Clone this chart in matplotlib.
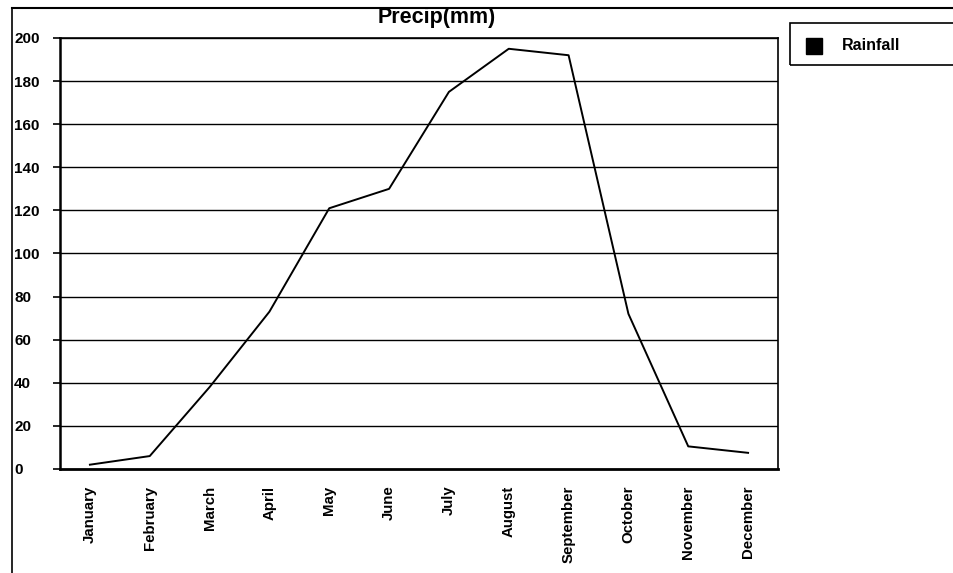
import matplotlib
matplotlib.use("Agg")
import matplotlib.pyplot as plt
from matplotlib.lines import Line2D
from matplotlib.patches import Rectangle

months = ["January", "February", "March", "April", "May", "June", "July",
          "August", "September", "October", "November", "December"]
rainfall = [2, 6, 38, 73, 121, 130, 175, 195, 192, 72, 10.5, 7.5]
y_ticks = [0, 20, 40, 60, 80, 100, 120, 140, 160, 180, 200]
title = "Precip(mm)"
legend_label = "Rainfall"

W, H = 954, 573
fig = plt.figure(figsize=(W / 100, H / 100), dpi=100)
plt.rcParams['font.family'] = ['Liberation Sans', 'DejaVu Sans']

ax = fig.add_axes([60 / W, 1 - 469 / H, (778 - 60) / W, (469 - 38) / H])
x = list(range(len(months)))
ax.plot(x, rainfall, color='black', lw=1.4)
ax.set_xlim(-0.5, len(months) - 0.5)
ax.set_ylim(0, 200)
ax.set_yticks(y_ticks)
ax.set_yticklabels([str(v) for v in y_ticks], fontsize=11, fontweight='bold')
ax.set_xticks(x)
ax.set_xticklabels(months, rotation=90, fontsize=10.8, fontweight='bold')
ax.tick_params(axis='x', length=0, pad=12)
ax.tick_params(axis='y', length=5, width=1.2, direction='out', pad=28)
for lab in ax.get_yticklabels():
    lab.set_horizontalalignment('left')
for v in y_ticks[1:]:
    ax.axhline(v, color='black', lw=1.0, zorder=0)
ax.spines['left'].set_linewidth(1.8)
ax.spines['bottom'].set_linewidth(2.0)
ax.spines['right'].set_linewidth(1.2)
ax.spines['top'].set_linewidth(1.2)

fig.text(437 / W, 1 - 17 / H, title, ha='center', va='center', fontsize=15.5,
         fontweight='bold')

# outer frame lines
fig.add_artist(Line2D([12 / W, 12 / W], [0, 1 - 8 / H], color='black', lw=1.2,
                      transform=fig.transFigure))
fig.add_artist(Line2D([12 / W, 1], [1 - 8 / H, 1 - 8 / H], color='black', lw=1.5,
                      transform=fig.transFigure))

# legend box
fig.add_artist(Rectangle((790 / W, 1 - 65 / H), (960 - 790) / W, (65 - 23) / H,
                         transform=fig.transFigure, fill=False, ec='black', lw=1.2))
fig.add_artist(Rectangle((806 / W, 1 - 54 / H), 16 / W, 16 / H,
                         transform=fig.transFigure, fc='black', ec='black'))
fig.text(842 / W, 1 - 46 / H, legend_label, ha='left', va='center', fontsize=11.5,
         fontweight='bold')

fig.savefig("out.png", dpi=100)
